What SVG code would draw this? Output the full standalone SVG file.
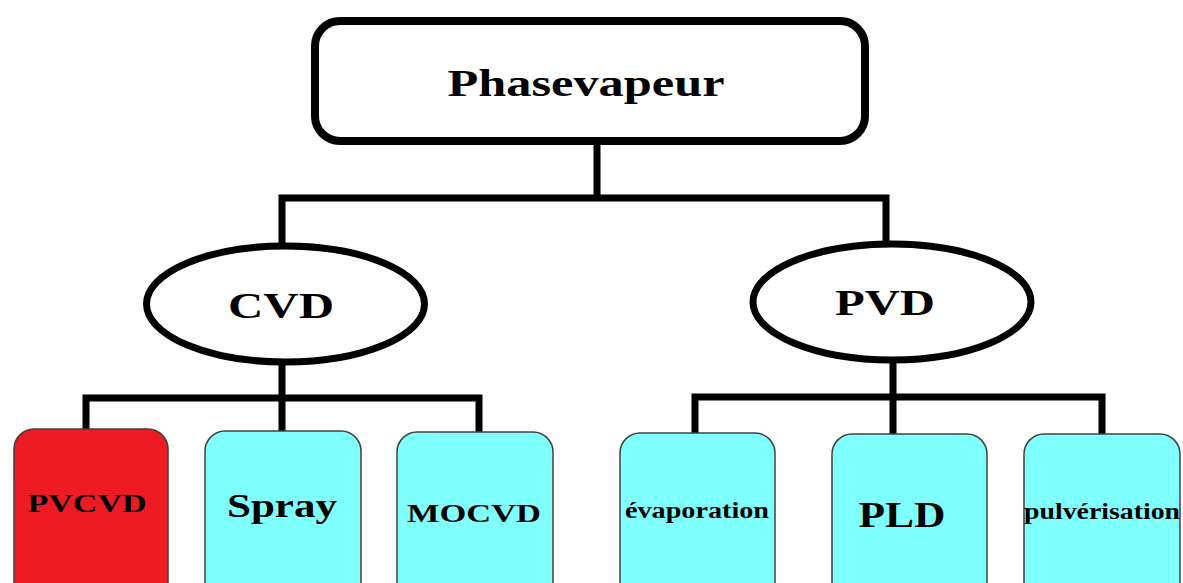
<svg xmlns="http://www.w3.org/2000/svg" width="1183" height="583" viewBox="0 0 1183 583">
<style>
.lbl{font-family:"Liberation Serif","Times New Roman",serif;font-weight:bold;fill:#000;text-anchor:middle}
.conn{fill:none;stroke:#000;stroke-width:7;stroke-linejoin:miter;stroke-linecap:butt}
.oval{fill:#fff;stroke:#000;stroke-width:7}
.leaf{stroke:#404040;stroke-width:1.5}
.cyan{fill:#80FFFF}
.red{fill:#ED1C24}
</style>
<rect width="1183" height="583" fill="#fff"/>
<g id="connectors">
<path class="conn" d="M597 141 V198 M282 246 V198 H886 V244"/>
<path class="conn" d="M282 364 V398 M86 430 V398 H479 V432 M282 398 V432"/>
<path class="conn" d="M893 362 V397 M695 434 V397 H1102 V434 M893 397 V434"/>
</g>
<g id="phasevapeur">
<rect x="315" y="21" width="550" height="120" rx="25" fill="#fff" stroke="#000" stroke-width="8"/>
<text class="lbl" x="586" y="96" font-size="38" textLength="277" lengthAdjust="spacingAndGlyphs">Phasevapeur</text>
</g>
<g id="cvd">
<ellipse class="oval" cx="285.5" cy="304" rx="139" ry="58"/>
<text class="lbl" x="281" y="318" font-size="35" textLength="106" lengthAdjust="spacingAndGlyphs">CVD</text>
</g>
<g id="pvd">
<ellipse class="oval" cx="892" cy="302" rx="139" ry="58"/>
<text class="lbl" x="885" y="315" font-size="36" textLength="100" lengthAdjust="spacingAndGlyphs">PVD</text>
</g>
<g id="pvcvd">
<rect class="leaf red" x="14" y="429" width="154" height="180" rx="20"/>
<text class="lbl" x="87" y="512" font-size="26" textLength="119" lengthAdjust="spacingAndGlyphs">PVCVD</text>
</g>
<g id="spray">
<rect class="leaf cyan" x="205" y="431" width="156" height="180" rx="20"/>
<text class="lbl" x="282" y="517" font-size="33" textLength="110" lengthAdjust="spacingAndGlyphs">Spray</text>
</g>
<g id="mocvd">
<rect class="leaf cyan" x="397" y="432" width="156" height="180" rx="20"/>
<text class="lbl" x="474" y="522" font-size="26" textLength="134" lengthAdjust="spacingAndGlyphs">MOCVD</text>
</g>
<g id="evaporation">
<rect class="leaf cyan" x="620" y="433" width="155" height="180" rx="20"/>
<text class="lbl" x="697" y="518" font-size="24" textLength="144" lengthAdjust="spacingAndGlyphs">évaporation</text>
</g>
<g id="pld">
<rect class="leaf cyan" x="832" y="434" width="155" height="180" rx="20"/>
<text class="lbl" x="902" y="527" font-size="36" textLength="87" lengthAdjust="spacingAndGlyphs">PLD</text>
</g>
<g id="pulverisation">
<rect class="leaf cyan" x="1024" y="434" width="156" height="180" rx="20"/>
<text class="lbl" x="1102" y="519" font-size="24" textLength="156" lengthAdjust="spacingAndGlyphs">pulvérisation</text>
</g>
</svg>
